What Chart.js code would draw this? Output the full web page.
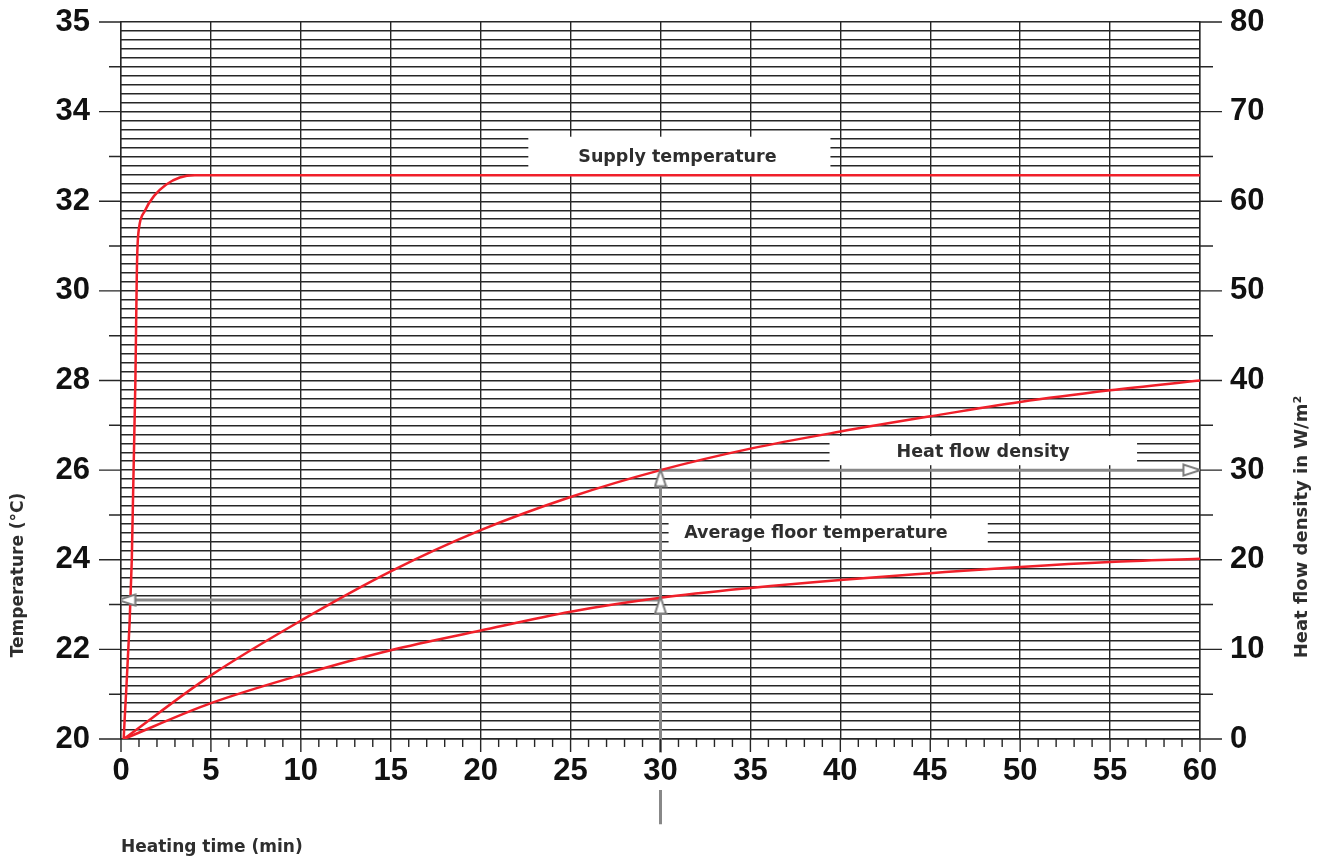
<!DOCTYPE html>
<html>
<head>
<meta charset="utf-8">
<title>Heating time</title>
<script src="https://cdn.jsdelivr.net/npm/chart.js@4.4.1/dist/chart.umd.min.js"></script>
<style>
  body { margin: 0; background: #fff; }
  canvas { display: block; }
</style>
</head>
<body>
<canvas id="chart" width="1328" height="859"></canvas>
<script>
// supply temperature (°C) over heating time (min)
const supplyTime = [0.15, 0.6, 0.8, 0.88, 0.92, 1.0, 1.33, 1.84, 2.5, 3.27, 4.1, 60];
const supplyTemp = [20, 24, 28, 30.4, 31.0, 31.4, 31.79, 32.12, 32.37, 32.53, 32.58, 32.58];

// heat flow density (W/m2) and average floor temperature (°C)
const floorTime = [0.15, 5, 10, 15, 20, 25, 30, 35, 40, 45, 50, 55, 60];
const heatFlow = [0, 7.1, 13.2, 18.7, 23.3, 27.0, 30.0, 32.4, 34.3, 36.0, 37.6, 38.9, 40.0];
const floorTemp = [20, 20.8, 21.43, 21.98, 22.42, 22.84, 23.15, 23.37, 23.55, 23.7, 23.84, 23.95, 24.02];

// left axis: the top line is printed "35" in the original
const tempTicks = [20, 22, 24, 26, 28, 30, 32, 34, 36];
const tempLabels = ["20", "22", "24", "26", "28", "30", "32", "34", "35"];

// reading example at 30 min
const readTime = 30;
const readFloorTemp = 23.1;
const readHeatFlow = 30;

const boxLabels = ["Supply temperature", "Heat flow density", "Average floor temperature"];

const RED = "#f0202a";
const GRID = "#262626";
const GRAY = "#888888";
const TEXT = "#2e2e2e";

const pts = (xs, ys) => xs.map((x, i) => ({ x: x, y: ys[i] }));

// open arrow head
const arrowImg = document.createElement("canvas");
arrowImg.width = 14;
arrowImg.height = 20;
(function () {
  const c = arrowImg.getContext("2d");
  c.beginPath();
  c.moveTo(7, 1.5);
  c.lineTo(12.5, 18.5);
  c.lineTo(1.5, 18.5);
  c.closePath();
  c.fillStyle = "#fff";
  c.fill();
  c.strokeStyle = "#7a7a7a";
  c.lineWidth = 2;
  c.stroke();
})();

// no extra room for half labels at the ends of the axes
const noPad = (s) => {
  s.paddingTop = 0;
  s.paddingBottom = 0;
  s.paddingLeft = 0;
  s.paddingRight = 0;
};

// white label boxes behind the curves
const labelBoxes = {
  id: "labelBoxes",
  beforeDatasetsDraw(chart) {
    const { ctx, scales } = chart;
    const x = scales.x, w = scales.yW;
    const boxes = [
      { t0: 22.65, t1: 39.45, w0: 62.8, w1: 67.2, tx: 30.94, base: 64.43 },
      { t0: 39.4, t1: 56.5, w0: 30.55, w1: 33.8, tx: 47.94, base: 31.5 },
      { t0: 30.45, t1: 48.2, w0: 21.4, w1: 24.6, tx: 38.64, base: 22.4 },
    ];
    ctx.save();
    ctx.font = "bold 17.5px 'DejaVu Sans'";
    ctx.textAlign = "center";
    ctx.textBaseline = "alphabetic";
    boxes.forEach((b, i) => {
      const x0 = x.getPixelForValue(b.t0), x1 = x.getPixelForValue(b.t1);
      const y0 = w.getPixelForValue(b.w1), y1 = w.getPixelForValue(b.w0);
      ctx.fillStyle = "#fff";
      ctx.fillRect(x0, y0, x1 - x0, y1 - y0);
      ctx.fillStyle = TEXT;
      ctx.fillText(boxLabels[i], x.getPixelForValue(b.tx), w.getPixelForValue(b.base));
    });
    ctx.restore();
  },
};

// tick marks and axis titles
const axisExtras = {
  id: "axisExtras",
  afterDraw(chart) {
    const { ctx, chartArea: a, scales } = chart;
    const x = scales.x, w = scales.yW;
    ctx.save();
    ctx.strokeStyle = GRID;
    ctx.lineWidth = 1.4;
    ctx.beginPath();
    for (let v = w.min; v <= w.max; v += 5) {
      const y = w.getPixelForValue(v);
      const major = v % 10 === 0;
      ctx.moveTo(a.left - (major ? 22 : 12), y);
      ctx.lineTo(a.left, y);
      ctx.moveTo(a.right, y);
      ctx.lineTo(a.right + (major ? 22 : 13), y);
    }
    for (let t = x.min; t <= x.max; t++) {
      const px = x.getPixelForValue(t);
      ctx.moveTo(px, a.bottom);
      ctx.lineTo(px, a.bottom + (t % 5 === 0 ? 13 : 8));
    }
    ctx.stroke();

    ctx.fillStyle = TEXT;
    ctx.font = "bold 17px 'DejaVu Sans'";
    ctx.textAlign = "left";
    ctx.textBaseline = "alphabetic";
    ctx.fillText("Heating time (min)", 121, 852);

    ctx.textAlign = "center";
    ctx.textBaseline = "middle";
    ctx.translate(18.5, 575);
    ctx.rotate(-Math.PI / 2);
    ctx.fillText("Temperature (°C)", 0, 0);
    ctx.restore();

    ctx.save();
    ctx.fillStyle = TEXT;
    ctx.font = "bold 18px 'DejaVu Sans'";
    ctx.textAlign = "center";
    ctx.textBaseline = "middle";
    ctx.translate(1302, 527);
    ctx.rotate(-Math.PI / 2);
    ctx.fillText("Heat flow density in W/m²", 0, 0);
    ctx.restore();
  },
};

const tickFont = { family: "'Liberation Sans', Arial, sans-serif", size: 31, weight: "bold" };

new Chart(document.getElementById("chart"), {
  type: "line",
  data: {
    datasets: [
      // arrow heads on top
      {
        data: [
          { x: readTime, y: 22.99 },
          { x: readTime, y: 25.83 },
          { x: 0.32, y: readFloorTemp },
        ],
        yAxisID: "yT",
        showLine: false,
        pointStyle: arrowImg,
        pointRotation: [0, 0, -90],
        pointRadius: 8,
        order: 0,
      },
      {
        data: [{ x: 59.55, y: readHeatFlow }],
        yAxisID: "yW",
        showLine: false,
        pointStyle: arrowImg,
        pointRotation: 90,
        pointRadius: 8,
        order: 0,
      },
      {
        label: "Supply temperature",
        data: pts(supplyTime, supplyTemp),
        yAxisID: "yT",
        borderColor: RED,
        borderWidth: 2.5,
        pointRadius: 0,
        cubicInterpolationMode: "monotone",
        order: 1,
      },
      {
        label: "Heat flow density",
        data: pts(floorTime, heatFlow),
        yAxisID: "yW",
        borderColor: RED,
        borderWidth: 2.5,
        pointRadius: 0,
        cubicInterpolationMode: "monotone",
        order: 1,
      },
      {
        label: "Average floor temperature",
        data: pts(floorTime, floorTemp),
        yAxisID: "yT",
        borderColor: RED,
        borderWidth: 2.5,
        pointRadius: 0,
        cubicInterpolationMode: "monotone",
        order: 1,
      },
      // grey reading lines
      {
        data: [
          { x: readTime, y: 18.1 },
          { x: readTime, y: 18.86 },
          { x: readTime, y: null },
          { x: readTime, y: 19.7 },
          { x: readTime, y: 26 },
        ],
        yAxisID: "yT",
        borderColor: GRAY,
        borderWidth: 3,
        pointRadius: 0,
        spanGaps: false,
        clip: false,
        order: 2,
      },
      {
        data: [{ x: readTime, y: readFloorTemp }, { x: 0.1, y: readFloorTemp }],
        yAxisID: "yT",
        borderColor: GRAY,
        borderWidth: 3,
        pointRadius: 0,
        order: 2,
      },
      {
        data: [{ x: readTime, y: readHeatFlow }, { x: 59.9, y: readHeatFlow }],
        yAxisID: "yW",
        borderColor: GRAY,
        borderWidth: 3,
        pointRadius: 0,
        order: 2,
      },
    ],
  },
  options: {
    responsive: false,
    animation: false,
    events: [],
    layout: { padding: { top: 22, left: 0, right: 0, bottom: 0 } },
    plugins: { legend: { display: false }, tooltip: { enabled: false } },
    scales: {
      x: {
        type: "linear",
        position: "bottom",
        min: 0,
        max: 60,
        ticks: { stepSize: 5, padding: 14, color: "#111", font: tickFont, maxRotation: 0, autoSkip: false },
        grid: { color: GRID, lineWidth: 1.4, drawTicks: false },
        border: { color: GRID, width: 1.4 },
        afterFit: (s) => { s.height = 120; noPad(s); },
      },
      yT: {
        type: "linear",
        position: "left",
        min: tempTicks[0],
        max: tempTicks[tempTicks.length - 1],
        ticks: {
          stepSize: 2,
          padding: 31,
          color: "#111",
          font: tickFont,
          callback: (v) => {
            const i = tempTicks.indexOf(v);
            return i >= 0 ? tempLabels[i] : "";
          },
        },
        grid: { drawOnChartArea: false, drawTicks: false },
        border: { color: GRID, width: 1.4 },
        afterFit: (s) => { s.width = 121; noPad(s); },
      },
      yW: {
        type: "linear",
        position: "right",
        min: 0,
        max: 80,
        ticks: {
          stepSize: 1,
          maxTicksLimit: 200,
          autoSkip: false,
          padding: 30,
          color: "#111",
          font: tickFont,
          callback: (v) => (v % 10 === 0 ? String(v) : ""),
        },
        grid: { color: GRID, lineWidth: 1.4, drawTicks: false },
        border: { color: GRID, width: 1.4 },
        afterFit: (s) => { s.width = 128; noPad(s); },
      },
    },
  },
  plugins: [labelBoxes, axisExtras],
});
</script>
</body>
</html>
